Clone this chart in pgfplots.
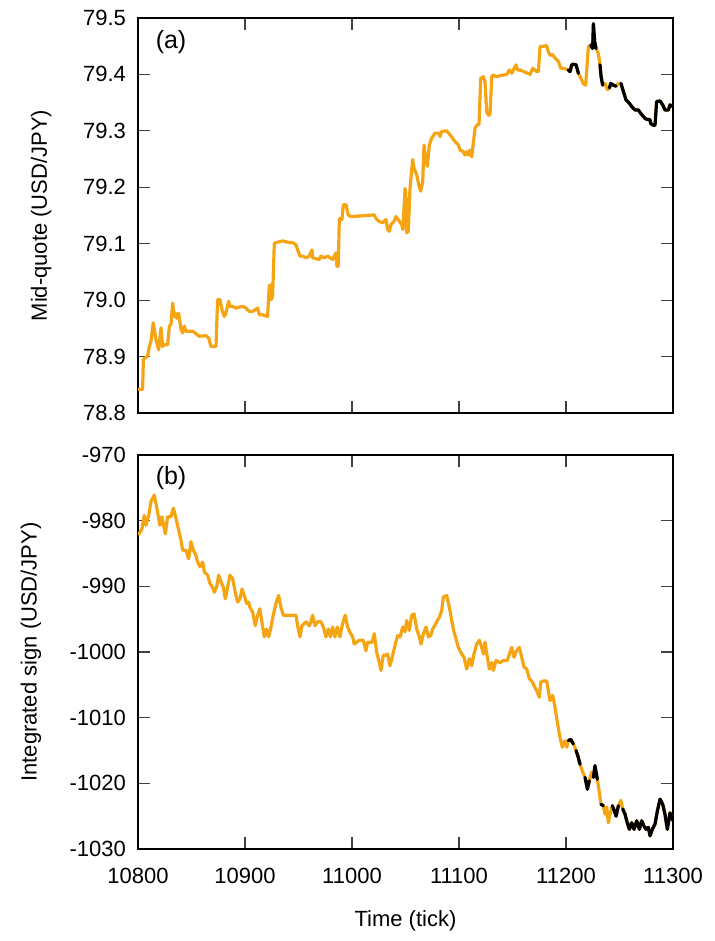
\documentclass[border=0pt]{standalone}
\usepackage{pgfplots}
\usepackage{pgfplotstable}
\pgfplotsset{compat=1.18}
\usepackage{fontspec}
\setmainfont{Liberation Sans}
\definecolor{lineorange}{RGB}{245,165,20}

\pgfplotstableread{
x y
10800 78.842
10804.3 78.842
10805.0 78.895
10809.0 78.901
10810.6 78.918
10812.1 78.927
10814.3 78.960
10816.8 78.930
10819.3 78.912
10821.5 78.951
10823.0 78.918
10824.6 78.921
10827.7 78.921
10829.3 78.954
10830.8 78.957
10832.4 78.995
10833.9 78.971
10834.9 78.977
10836.1 78.968
10838.0 78.977
10840.2 78.948
10841.7 78.942
10843.3 78.954
10844.8 78.945
10851.1 78.945
10857.3 78.936
10863.5 78.937
10866.0 78.933
10868.2 78.918
10872.9 78.918
10874.4 79.001
10876.6 79.001
10878.5 78.983
10880.6 78.971
10882.2 78.977
10884.7 78.998
10885.9 78.989
10888.4 78.989
10891.6 78.986
10897.8 78.989
10900.9 78.986
10904.0 78.980
10907.1 78.980
10909.6 78.983
10911.8 78.986
10913.4 78.974
10916.5 78.974
10921.1 78.971
10922.7 79.025
10923.6 79.027
10924.6 79.001
10925.8 79.007
10927.4 79.101
10935.2 79.105
10941.4 79.102
10944.5 79.102
10947.6 79.098
10949.2 79.089
10951.4 79.078
10953.9 79.078
10957.0 79.075
10960.1 79.078
10962.6 79.089
10963.2 79.075
10969.4 79.072
10971.0 79.078
10974.1 79.075
10977.2 79.078
10981.9 79.072
10983.4 79.078
10985.0 79.084
10985.9 79.060
10987.2 79.060
10988.1 79.143
10989.1 79.145
10990.6 79.143
10991.9 79.169
10994.4 79.169
10996.5 79.151
10999.0 79.148
11020.8 79.151
11022.4 79.145
11024.9 79.140
11028.6 79.137
11031.7 79.143
11033.3 79.125
11034.9 79.122
11036.4 79.134
11039.5 79.140
11041.1 79.148
11044.2 79.140
11046.5 79.134
11047.5 79.125
11049.6 79.198
11050.3 79.190
11051.1 79.119
11052.6 79.122
11054.2 79.198
11056.7 79.249
11058.0 79.234
11060.5 79.222
11063.0 79.199
11064.2 79.193
11066.1 79.210
11067.3 79.275
11069.2 79.246
11070.4 79.237
11072.3 79.275
11074.5 79.287
11077.6 79.296
11081.0 79.296
11082.3 79.290
11083.8 79.299
11088.5 79.300
11091.6 79.293
11096.3 79.281
11099.4 79.275
11101.0 79.266
11104.1 79.263
11105.6 79.257
11107.2 79.263
11108.8 79.257
11110.3 79.266
11111.9 79.254
11115.0 79.305
11117.2 79.311
11118.7 79.311
11120.3 79.393
11122.8 79.396
11124.3 79.387
11125.9 79.334
11127.5 79.328
11129.0 79.328
11130.6 79.396
11132.1 79.399
11134.6 79.396
11141.5 79.399
11144.6 79.400
11147.1 79.408
11149.3 79.402
11150.8 79.408
11153.3 79.417
11154.5 79.408
11157.0 79.408
11161.7 79.404
11166.4 79.400
11168.9 79.411
11171.1 79.408
11172.6 79.405
11174.2 79.405
11175.7 79.449
11182.0 79.451
11183.5 79.440
11185.1 79.434
11187.6 79.435
11189.7 79.429
11192.9 79.423
11195.1 79.411
11197.5 79.411
11202.2 79.408
11203.8 79.405
11205.3 79.417
11206.9 79.418
11209.4 79.417
11211.6 79.402
11214.7 79.390
11216.2 79.384
11218.4 79.381
11220.9 79.449
11223.1 79.452
11224.9 79.446
11225.6 79.490
11226.8 79.458
11228.1 79.446
11230.2 79.437
11231.8 79.417
11232.8 79.396
11234.3 79.381
11236.5 79.384
11238.7 79.373
11240.6 79.376
11241.8 79.384
11244.3 79.381
11246.8 79.379
11249.0 79.384
11251.4 79.384
11253.6 79.370
11256.1 79.355
11259.2 79.349
11261.4 79.343
11264.5 79.337
11267.6 79.337
11269.8 79.331
11273.9 79.322
11276.0 79.320
11278.5 79.320
11279.1 79.313
11281.6 79.310
11283.2 79.310
11284.7 79.352
11287.9 79.353
11290.4 79.346
11292.5 79.337
11295.7 79.337
11297.2 79.346
11300 79.343
}\midquote

\pgfplotstableread{
x y
10800 -982
10801.2 -982
10803.7 -981.2
10805.9 -979.2
10807.4 -980.7
10810.0 -979.2
10812.1 -977.1
10815.2 -976.1
10817.4 -977.9
10820.5 -980.7
10822.4 -979.4
10825.5 -982
10827.7 -979.4
10830.8 -979.4
10833.0 -978.1
10834.9 -979.2
10837.0 -980.7
10840.2 -983
10841.7 -984.5
10844.8 -984.5
10847.3 -985.8
10849.5 -983.2
10851.7 -984.5
10854.2 -985.3
10855.7 -986.3
10857.9 -987.0
10860.4 -986.3
10862.0 -987.8
10865.1 -988.3
10867.3 -989.6
10869.7 -990.1
10871.3 -990.9
10873.5 -990.1
10875.4 -988.3
10877.5 -989.3
10879.7 -990.1
10881.6 -991.9
10883.8 -990.1
10885.9 -988.3
10888.4 -988.8
10890.9 -990.9
10893.1 -992.4
10895.3 -991.9
10897.2 -990.4
10899.3 -991.4
10901.5 -992.6
10903.4 -992.4
10904.6 -993.2
10907.1 -993.9
10909.6 -996
10911.8 -994.4
10913.9 -993.4
10915.8 -995.4
10918.0 -997.7
10920.2 -996.5
10922.1 -997.7
10924.3 -996.2
10926.4 -994.4
10928.9 -992.6
10931.4 -991.4
10933.6 -993.2
10935.8 -994.4
10941.4 -994.4
10947.6 -994.4
10949.2 -996
10951.4 -997.7
10953.2 -996
10957.0 -995.4
10960.1 -996
10961.6 -995.4
10963.2 -994.4
10965.4 -996
10967.9 -995.4
10971.0 -995.4
10973.2 -996.2
10975.7 -997.7
10977.8 -996.5
10979.7 -997.7
10981.9 -996.2
10984.1 -997.7
10986.2 -996.2
10988.7 -997.7
10991.2 -995.7
10993.7 -994.4
10995.9 -996.2
10998.1 -997
11000.6 -997.7
11002.1 -998.8
11006.8 -998.2
11010.5 -998.2
11013.0 -999.8
11014.6 -998.5
11018.9 -998.5
11020.8 -997.2
11023.0 -1000
11025.5 -1001.6
11027.1 -1002.8
11029.2 -1000.5
11031.7 -1000.5
11033.3 -1000.3
11035.5 -1002.1
11038.0 -1000.5
11040.5 -998.8
11042.6 -997.5
11044.9 -997.7
11047.4 -996.2
11049.6 -996.9
11051.1 -995.2
11053.6 -996.7
11055.8 -994.4
11058.0 -994.2
11060.5 -996.5
11063.0 -997.7
11064.5 -998.8
11066.7 -997.2
11069.2 -996.2
11071.4 -997.7
11073.6 -997.5
11075.4 -996.5
11077.6 -995.9
11079.8 -995.2
11081.7 -994.7
11083.8 -993.7
11085.4 -991.6
11088.5 -991.4
11091.0 -993.2
11093.2 -995.2
11095.4 -997
11097.2 -998
11099.4 -999.3
11102.5 -1000.3
11104.7 -1000.8
11107.2 -1002.6
11109.7 -1001.0
11111.9 -1002.1
11114.0 -1000.3
11116.5 -998.8
11119.0 -998.2
11121.2 -999.3
11122.8 -1000.3
11124.3 -998.5
11126.5 -1000.8
11128.4 -1002.6
11130.6 -1001.6
11132.1 -1002.8
11134.6 -1001.3
11138.4 -1001.6
11141.5 -1001.3
11145.2 -1001.3
11147.7 -1000.0
11149.3 -999.3
11151.4 -1000.8
11153.9 -999.8
11156.4 -999.3
11158.6 -1000.8
11160.8 -1002.3
11163.3 -1002.6
11165.8 -1004.1
11167.9 -1004.4
11170.1 -1005.1
11172.6 -1005.9
11175.1 -1006.9
11176.4 -1004.6
11178.9 -1004.4
11182.0 -1004.4
11183.5 -1005.9
11185.1 -1007.4
11187.6 -1006.6
11189.7 -1008.4
11191.9 -1010.7
11194.4 -1013
11196.6 -1014.5
11199.1 -1013.5
11200.7 -1014.5
11202.2 -1013.5
11204.4 -1013.3
11206.9 -1014
11209.4 -1015.0
11211.6 -1016.1
11213.1 -1017.1
11215.6 -1018.3
11217.8 -1019.1
11220.0 -1020.9
11221.8 -1019.6
11224.0 -1018.3
11225.6 -1019.1
11227.1 -1017.3
11229.3 -1019.4
11231.2 -1021.4
11232.7 -1023.2
11234.9 -1023.4
11236.5 -1024.7
11238.0 -1023.6
11239.6 -1026.0
11241.1 -1024.7
11243.3 -1023.4
11245.2 -1024.2
11246.8 -1025
11249.0 -1023.4
11251.1 -1022.6
11253.0 -1023.9
11255.2 -1024.7
11256.7 -1025.7
11259.2 -1027.0
11261.4 -1026.0
11263.6 -1027.0
11266.1 -1025.7
11268.6 -1027.0
11270.7 -1025.7
11272.9 -1026.5
11274.8 -1027.0
11277.0 -1026.7
11278.5 -1028.0
11280.7 -1027.0
11283.2 -1026.2
11285.4 -1024.2
11287.9 -1022.4
11290.4 -1023.2
11292.5 -1024.7
11294.7 -1027.0
11297.2 -1024.5
11300 -1025.7
}\intsign

\begin{document}
\begin{tikzpicture}[font=\fontsize{11}{13}\selectfont]
\path[use as bounding box] (-69pt,-264pt) rectangle (288.5pt,206.5pt);
\pgfplotsset{
  panel/.style={
    scale only axis,
    width=267.5pt,
    xmin=10800, xmax=11300,
    xtick={10800,10900,11000,11100,11200,11300},
    scaled ticks=false,
    axis line style={black, line width=0.6pt},
    major tick style={black!75, line width=0.6pt},
    major tick length=6pt,
    tick align=inside,
    /pgf/number format/assume math mode=true,
    /pgf/number format/1000 sep={},
    yticklabel style={xshift=-2.5pt},
    xticklabel style={yshift=-6pt},
    clip=true,
  },
  ser/.style={line width=1.6pt, line join=round, line cap=round},
}
\begin{axis}[panel,
  at={(0,0)}, anchor=south west,
  height=197.5pt,
  ymin=78.8, ymax=79.5,
  ytick={78.8,78.9,79.0,79.1,79.2,79.3,79.4,79.5},
  yticklabel style={/pgf/number format/.cd, fixed, fixed zerofill, precision=1},
  xticklabels={},
  ylabel={Mid-quote (USD/JPY)},
  ylabel style={at={(axis description cs:-0.181,0.5)}, anchor=center},
]
\addplot[ser, lineorange] table[x=x,y=y] {\midquote};
\addplot[ser, black, restrict x to domain=11202:11212] table[x=x,y=y] {\midquote};
\addplot[ser, black, restrict x to domain=11223:11228.5] table[x=x,y=y] {\midquote};
\addplot[ser, black, restrict x to domain=11231.5:11234.5] table[x=x,y=y] {\midquote};
\addplot[ser, black, restrict x to domain=11240.5:11247] table[x=x,y=y] {\midquote};
\addplot[ser, black, restrict x to domain=11251:11300] table[x=x,y=y] {\midquote};
\node[anchor=west, font=\fontsize{12.5}{14}\selectfont] at (axis description cs:0.020,0.938) {(a)};
\end{axis}
\begin{axis}[panel,
  at={(0,-218pt)}, anchor=south west,
  height=197pt,
  ymin=-1030, ymax=-970,
  ytick={-1030,-1020,-1010,-1000,-990,-980,-970},
  ylabel={Integrated sign (USD/JPY)},
  ylabel style={at={(axis description cs:-0.200,0.5)}, anchor=center},
  xlabel={Time (tick)},
  xlabel style={at={(axis description cs:0.5,-0.183)}, anchor=center},
]
\addplot[ser, lineorange] table[x=x,y=y] {\intsign};
\addplot[ser, black, restrict x to domain=11202:11207] table[x=x,y=y] {\intsign};
\addplot[ser, black, restrict x to domain=11209:11215] table[x=x,y=y] {\intsign};
\addplot[ser, black, restrict x to domain=11217.5:11222] table[x=x,y=y] {\intsign};
\addplot[ser, black, restrict x to domain=11225:11230] table[x=x,y=y] {\intsign};
\addplot[ser, black, restrict x to domain=11232.5:11235] table[x=x,y=y] {\intsign};
\addplot[ser, black, restrict x to domain=11243:11249.5] table[x=x,y=y] {\intsign};
\addplot[ser, black, restrict x to domain=11253:11300] table[x=x,y=y] {\intsign};
\node[anchor=west, font=\fontsize{12.5}{14}\selectfont] at (axis description cs:0.020,0.942) {(b)};
\end{axis}
\end{tikzpicture}
\end{document}
